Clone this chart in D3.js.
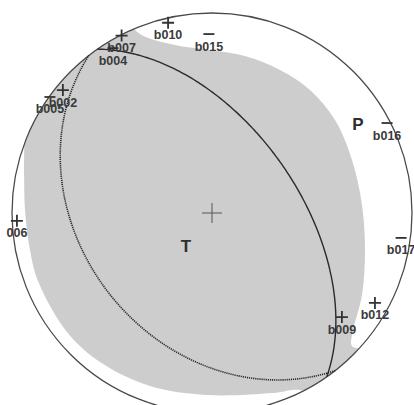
<!DOCTYPE html>
<html>
<head>
<meta charset="utf-8">
<script src="https://cdn.jsdelivr.net/npm/d3@7"></script>
<style>
  html, body { margin: 0; padding: 0; background: #fff; }
  svg { display: block; }
</style>
</head>
<body>
<script>
// Focal mechanism (lower hemisphere, equal-area) with first-motion polarities.

// Stations: name, polarity, azimuth (deg), take-off angle (deg from down)
const stations = ["b010", "b015", "b007", "b004", "b002", "b005", "006", "b016", "b017", "b012", "b009"];
const polarity = ["+", "-", "+", "-", "+", "-", "+", "-", "-", "+", "+"];
const azimuth  = [347, 359, 333, 329, 309.5, 305.6, 267.7, 62.8, 97.5, 118.9, 128.7];
const takeoff  = [87.3, 78.5, 89.5, 85.7, 86.2, 89.6, 87.3, 88.2, 84.8, 82.3, 72.1];

// Nodal planes (strike / dip, right-hand rule)
const planeStrike = [325, 142];
const planeDip    = [55, 35];

// Principal axes: trend / plunge
const axisNames  = ["P", "T"];
const axisTrend  = [58.9, 218.2];
const axisPlunge = [15.9, 72.9];

// Shaded quadrant outline, in unit-disk coordinates (east, north)
const shadeE = [-0.36, -0.185, -0.01, 0.165, 0.34, 0.49, 0.615, 0.70, 0.75, 0.765, 0.75, 0.70, 0.70, 0.80, 0.60, 0.44, 0.305, -0.025, -0.31, -0.56, -0.725, -0.87, -0.91, -0.935, -0.94, -0.945, -1.02, -0.86, -0.51];
const shadeN = [0.895, 0.84, 0.815, 0.785, 0.715, 0.615, 0.465, 0.265, 0.04, -0.185, -0.41, -0.61, -0.665, -0.70, -0.95, -0.885, -0.90, -0.91, -0.865, -0.745, -0.595, -0.34, -0.185, 0.015, 0.215, 0.40, 0.62, 0.965, 1.04];

const W = 414, H = 405;
const cx = 212, cy = 213, R = 200;

const x = d3.scaleLinear().domain([-1, 1]).range([cx - R, cx + R]);
const y = d3.scaleLinear().domain([-1, 1]).range([cy + R, cy - R]);

const rad = Math.PI / 180;
// equal-area projection of a direction given azimuth and angle from vertical
function project(az, inc) {
  const r = Math.SQRT2 * Math.sin(inc * rad / 2);
  return [r * Math.sin(az * rad), r * Math.cos(az * rad)];
}

function greatCircle(strike, dip) {
  const s = [Math.sin(strike * rad), Math.cos(strike * rad), 0];
  const dd = (strike + 90) * rad;
  const d = [Math.cos(dip * rad) * Math.sin(dd), Math.cos(dip * rad) * Math.cos(dd), Math.sin(dip * rad)];
  const pts = [];
  for (let l = 0; l <= 180; l += 1) {
    const c = Math.cos(l * rad), sn = Math.sin(l * rad);
    const e = c * s[0] + sn * d[0], n = c * s[1] + sn * d[1], z = c * s[2] + sn * d[2];
    const inc = Math.acos(Math.max(-1, Math.min(1, z))) / rad;
    const az = Math.atan2(e, n) / rad;
    pts.push(project(az, inc));
  }
  return pts;
}

const svg = d3.select("body").append("svg")
  .attr("width", W).attr("height", H)
  .attr("viewBox", `0 0 ${W} ${H}`);

svg.append("defs").append("clipPath").attr("id", "sphere")
  .append("circle").attr("cx", x(0)).attr("cy", y(0)).attr("r", x(1) - x(0));

// shaded region
const shadePts = shadeE.map((e, i) => [e, shadeN[i]]);
svg.append("path")
  .attr("clip-path", "url(#sphere)")
  .attr("d", d3.line().x(p => x(p[0])).y(p => y(p[1])).curve(d3.curveCatmullRomClosed.alpha(0.5))(shadePts))
  .attr("fill", "#cdcdcd");

// primitive circle
svg.append("circle")
  .attr("cx", x(0)).attr("cy", y(0)).attr("r", x(1) - x(0))
  .attr("fill", "none").attr("stroke", "#4a4a4a").attr("stroke-width", 1.3);

// nodal planes
const line = d3.line().x(p => x(p[0])).y(p => y(p[1]));
planeStrike.forEach((st, i) => {
  svg.append("path")
    .attr("d", line(greatCircle(st, planeDip[i])))
    .attr("fill", "none")
    .attr("stroke", "#2a2a2a")
    .attr("stroke-width", i === 0 ? 1.4 : 1.6)
    .attr("stroke-dasharray", i === 0 ? null : "1.2,0.9");
});

// centre mark
svg.append("path")
  .attr("d", `M${x(0) - 10},${y(0)}H${x(0) + 10}M${x(0)},${y(0) - 10}V${y(0) + 10}`)
  .attr("stroke", "#555").attr("stroke-width", 1);

// axis labels
axisNames.forEach((nm, i) => {
  const p = project(axisTrend[i], 90 - axisPlunge[i]);
  svg.append("text")
    .attr("x", x(p[0])).attr("y", y(p[1]))
    .attr("text-anchor", "middle").attr("dominant-baseline", "central")
    .attr("font-family", "Liberation Sans, Arial, sans-serif")
    .attr("font-size", 17).attr("font-weight", "bold")
    .attr("fill", "#2e2e2e")
    .text(nm);
});

// station polarities
const g = svg.append("g");
stations.forEach((nm, i) => {
  const p = project(azimuth[i], takeoff[i]);
  const px = x(p[0]), py = y(p[1]);
  const m = polarity[i] === "+"
    ? `M${px - 6},${py}H${px + 6}M${px},${py - 6}V${py + 6}`
    : `M${px - 5.5},${py}H${px + 5.5}`;
  g.append("path").attr("d", m).attr("stroke", "#333").attr("stroke-width", 1.8);
  g.append("text")
    .attr("x", px).attr("y", py + 16.5)
    .attr("text-anchor", "middle")
    .attr("font-family", "Liberation Sans, Arial, sans-serif")
    .attr("font-size", 12.5).attr("font-weight", "bold")
    .attr("fill", "#3a3a3a")
    .text(nm);
});
</script>
</body>
</html>
